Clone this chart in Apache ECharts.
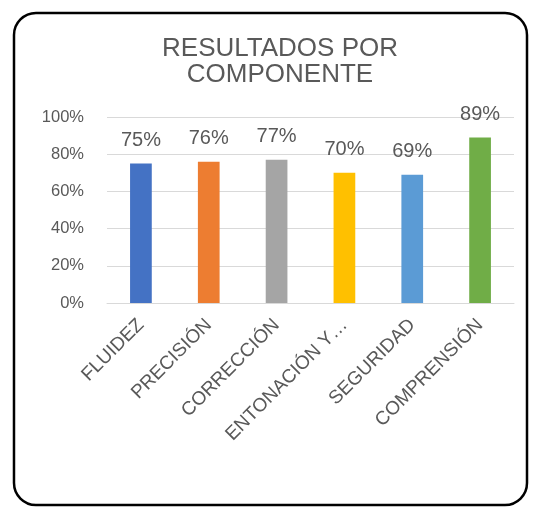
<!DOCTYPE html>
<html><head><meta charset="utf-8">
<script src="https://cdn.jsdelivr.net/npm/echarts@6/dist/echarts.min.js"></script>
<style>html,body{margin:0;padding:0;background:#fff}#c{width:536px;height:508px}</style>
</head><body><div id="c"></div>
<script>
const titleText = "RESULTADOS POR\nCOMPONENTE";
const categories = ["FLUIDEZ","PRECISIÓN","CORRECCIÓN","ENTONACIÓN Y…","SEGURIDAD","COMPRENSIÓN"];
const values = [75, 76, 77, 70, 69, 89];
const colors = ["#4472C4","#ED7D31","#A5A5A5","#FFC000","#5B9BD5","#70AD47"];
const yTicks = [0, 20, 40, 60, 80, 100];

const chart = echarts.init(document.getElementById('c'), null, {renderer:'canvas'});
chart.setOption({
  animation:false,
  backgroundColor:'#fff',
  graphic:[{type:'rect', shape:{x:14,y:13,width:513,height:492,r:22}, style:{fill:'none',stroke:'#000',lineWidth:2.5}, z:-1}],
  title:{text:titleText, left:275, textAlign:'center', top:31,
    textStyle:{fontFamily:'Liberation Sans, Arial', fontSize:26, fontWeight:'normal', color:'#595959', lineHeight:26}},
  grid:{left:107, right:22, top:117, height:186, containLabel:false},
  xAxis:{type:'category', data:categories,
    axisLine:{lineStyle:{color:'#d9d9d9'}}, axisTick:{show:false},
    axisLabel:{rotate:45, interval:0, margin:19, fontFamily:'Liberation Sans, Arial', fontSize:19, color:'#595959'}},
  yAxis:{type:'value', min:yTicks[0], max:yTicks[yTicks.length-1], interval:20,
    axisLine:{show:false}, axisTick:{show:false},
    splitLine:{lineStyle:{color:'#d9d9d9'}},
    axisLabel:{margin:23, fontFamily:'Liberation Sans, Arial', fontSize:16.5, color:'#595959', formatter:v=>v+'%'}},
  series:[{type:'bar', barWidth:'32%',
    data:values.map((v,i)=>({value:v, itemStyle:{color:colors[i]}})),
    label:{show:true, position:'top', distance:13, formatter:p=>p.value+'%',
      fontFamily:'Liberation Sans, Arial', fontSize:20, color:'#595959'}}]
});
</script></body></html>
